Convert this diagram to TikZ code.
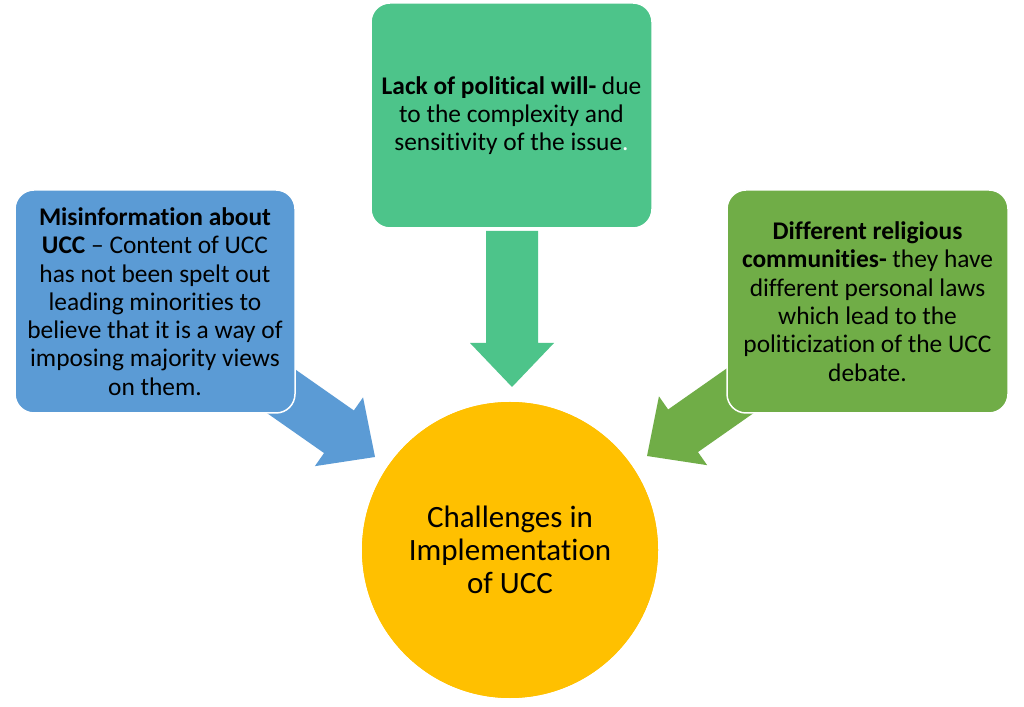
\documentclass[tikz,border=0pt]{standalone}
\usepackage{fontspec}
\setmainfont{Carlito}[Ligatures=NoCommon]
\definecolor{blueC}{RGB}{91,155,213}
\definecolor{mintC}{RGB}{77,196,138}
\definecolor{oliveC}{RGB}{112,173,71}
\definecolor{goldC}{RGB}{255,192,0}
\newcommand\blockarrow[4]{%
  \begin{scope}[shift={(#1)},rotate=#2]
    \fill[#4] (0,0) -- (-44,42) -- (-44,26) -- (-#3,26) -- (-#3,-26) -- (-44,-26) -- (-44,-42) -- cycle;
  \end{scope}}
\begin{document}
\begin{tikzpicture}[x=1pt,y=1pt,
  box/.style={rectangle, draw=white, line width=1.5pt, rounded corners=19pt,
    inner sep=0pt, align=center, font=\fontsize{25.4}{28.3}\selectfont},
  hub/.style={circle, fill=goldC, inner sep=0pt, minimum size=296pt,
    align=center, font=\fontsize{31}{33}\selectfont}]
\useasboundingbox (0,0) rectangle (1024,706);
\fill[white] (0,0) rectangle (1024,706);
% connectors (drawn first, boxes overlap the tails)
\node[hub] (hub) at (510,156) {};
\coordinate (tipL) at (375,249);
\coordinate (tipT) at (512,319);
\coordinate (tipR) at (647,250);
\blockarrow{tipL}{-35}{180}{blueC}
\blockarrow{tipT}{-90}{156}{mintC}
\blockarrow{tipR}{-145}{180}{oliveC}
% boxes
\node[box, fill=blueC, minimum width=280pt, minimum height=223pt] (mis) at (155,404.5)
  {\textbf{Misinformation about}\\ \textbf{UCC} – Content of UCC\\ has not been spelt out\\ leading minorities to\\ believe that it is a way of\\ imposing majority views\\ on them.};
\node[box, fill=mintC, minimum width=281pt, minimum height=225pt] (will) at (511.5,590.5)
  {\textbf{Lack of political will-} due\\ to the complexity and\\ sensitivity of the issue\textcolor{white}{.}};
\node[box, fill=oliveC, minimum width=281pt, minimum height=223pt] (rel) at (867.5,404.5)
  {\textbf{Different religious}\\ \textbf{communities-} they have\\ different personal laws\\ which lead to the\\ politicization of the UCC\\ debate.};
\node[hub] (hubtext) at (hub.center) {Challenges in\\ Implementation\\ of UCC};
\end{tikzpicture}
\end{document}
